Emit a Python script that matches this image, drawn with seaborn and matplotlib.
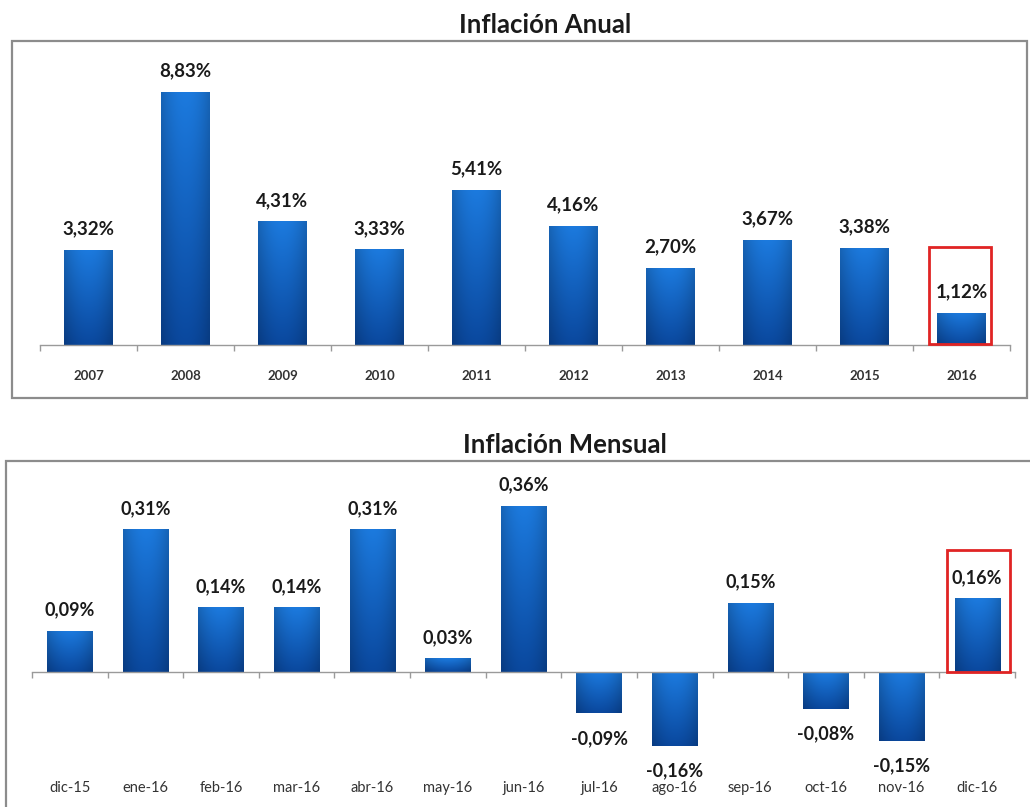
import numpy as np
import pandas as pd
import matplotlib
matplotlib.use("Agg")
import matplotlib.pyplot as plt
import seaborn as sns
from matplotlib.patches import Rectangle
import matplotlib.transforms as mtransforms

# ---------------- data ----------------
years = ["2007", "2008", "2009", "2010", "2011", "2012", "2013", "2014", "2015", "2016"]
annual = [3.32, 8.83, 4.31, 3.33, 5.41, 4.16, 2.70, 3.67, 3.38, 1.12]

months = ["dic-15", "ene-16", "feb-16", "mar-16", "abr-16", "may-16", "jun-16",
          "jul-16", "ago-16", "sep-16", "oct-16", "nov-16", "dic-16"]
monthly = [0.09, 0.31, 0.14, 0.14, 0.31, 0.03, 0.36, -0.09, -0.16, 0.15, -0.08, -0.15, 0.16]

title_top = "Inflación Anual"
title_bottom = "Inflación Mensual"

# ---------------- style ----------------
sns.set_style("white")
plt.rcParams["font.family"] = ["Lato", "DejaVu Sans"]

W, H = 1030, 807
fig = plt.figure(figsize=(W / 100, H / 100), dpi=100)
fig.patch.set_facecolor("white")


def px_axes(x0, x1, y0, y1):
    return fig.add_axes([x0 / W, 1 - y1 / H, (x1 - x0) / W, (y1 - y0) / H])


def fmt(v):
    return f"{v:.2f}%".replace(".", ",")


TOP_C = np.array([28, 122, 222]) / 255.0
BOT_C = np.array([10, 72, 158]) / 255.0


def gradient_bars(ax):
    ny, nx = 64, 32
    t = np.linspace(0, 1, ny).reshape(-1, 1, 1)          # 0 bottom -> 1 top
    xs = np.linspace(-1, 1, nx).reshape(1, -1, 1)
    shade = 1 - 0.18 * xs ** 2
    img = (BOT_C + (TOP_C - BOT_C) * t) * shade
    img = np.clip(img, 0, 1)
    for p in list(ax.patches):
        x, y = p.get_x(), p.get_y()
        w, h = p.get_width(), p.get_height()
        y0, y1 = min(y, y + h), max(y, y + h)
        p.set_facecolor("#0d5cb8")
        p.set_edgecolor("none")
        im = ax.imshow(img, extent=[x, x + w, y0, y1], origin="lower",
                       aspect="auto", zorder=p.get_zorder() + 0.1,
                       interpolation="bilinear")
        im.set_clip_path(p)


def frame(x0, y0, x1, y1):
    fig.add_artist(Rectangle((x0 / W, 1 - y1 / H), (x1 - x0) / W, (y1 - y0) / H,
                             transform=fig.transFigure, fill=False,
                             edgecolor="#8c8c8c", lw=1.6, zorder=0))


def base_axis(ax, n):
    ax.set_xlabel("")
    ax.set_ylabel("")
    ax.set_yticks([])
    for s in ["top", "left", "right"]:
        ax.spines[s].set_visible(False)
    ax.spines["bottom"].set_color("#9a9a9a")
    ax.spines["bottom"].set_linewidth(1.0)
    ax.set_xticks(range(n))
    ax.set_xticks(np.arange(-0.5, n), minor=True)
    ax.tick_params(axis="x", which="major", length=0, bottom=True)
    ax.tick_params(axis="x", which="minor", length=4, width=1, color="#9a9a9a",
                   direction="out", bottom=True)
    ax.set_facecolor("none")


# ---------------- top panel ----------------
frame(12, 41, 1027, 398)
fig.text(545 / W, 1 - 25 / H, title_top, ha="center", va="center",
         fontsize=18.5, fontweight="bold", color="#1a1a1a")

ax1 = px_axes(40, 1010, 60, 345)
df1 = pd.DataFrame({"year": years, "value": annual})
sns.barplot(data=df1, x="year", y="value", ax=ax1, width=0.5,
            color="#0d5cb8", saturation=1, edgecolor="none")
ylim1 = (0, (345 - 60) / 28.7)
ax1.set_xlim(-0.5, len(years) - 0.5)
ax1.set_ylim(*ylim1)
gradient_bars(ax1)
ax1.set_xlim(-0.5, len(years) - 0.5)
ax1.set_ylim(*ylim1)
for i, v in enumerate(annual):
    ax1.annotate(fmt(v), (i, v), xytext=(0, 15), textcoords="offset points",
                 ha="center", va="center", fontsize=13.5, fontweight="bold",
                 color="#1a1a1a")
base_axis(ax1, len(years))
ax1.set_xticklabels(years, fontsize=9.5, fontweight="bold", color="#333333")
ax1.tick_params(axis="x", which="major", pad=18)
# highlight last bar
n1 = len(years) - 1
ax1.add_patch(Rectangle((n1 - 0.33, 0.05), 0.63, annual[n1] + 2.25,
                        fill=False, edgecolor="#e02424", lw=2, zorder=5,
                        clip_on=False))

# ---------------- bottom panel ----------------
frame(6, 461, 1045, 830)
fig.text(565 / W, 1 - 445 / H, title_bottom, ha="center", va="center",
         fontsize=18.5, fontweight="bold", color="#1a1a1a")

ax2 = px_axes(32, 1015, 480, 760)
df2 = pd.DataFrame({"month": months, "value": monthly})
sns.barplot(data=df2, x="month", y="value", ax=ax2, width=0.6,
            color="#0d5cb8", saturation=1, edgecolor="none")
ylim2 = (-(760 - 672) / 461, (672 - 480) / 461)
ax2.set_xlim(-0.5, len(months) - 0.5)
ax2.set_ylim(*ylim2)
gradient_bars(ax2)
ax2.set_xlim(-0.5, len(months) - 0.5)
ax2.set_ylim(*ylim2)
for i, v in enumerate(monthly):
    off = 15 if v >= 0 else -18
    ax2.annotate(fmt(v), (i, v), xytext=(0, off), textcoords="offset points",
                 ha="center", va="center", fontsize=13, fontweight="bold",
                 color="#1a1a1a")
base_axis(ax2, len(months))
ax2.spines["bottom"].set_position(("data", 0))
ax2.set_xticklabels([])
trans = mtransforms.blended_transform_factory(ax2.transData, fig.transFigure)
for i, m in enumerate(months):
    ax2.text(i, 1 - 788 / H, m, transform=trans, ha="center", va="center",
             fontsize=10.5, color="#333333", clip_on=False)
n2 = len(months) - 1
ax2.add_patch(Rectangle((n2 - 0.4, 0), 0.83, monthly[n2] + 0.105,
                        fill=False, edgecolor="#e02424", lw=2, zorder=5,
                        clip_on=False))

fig.savefig("out.png", dpi=100, facecolor="white")
